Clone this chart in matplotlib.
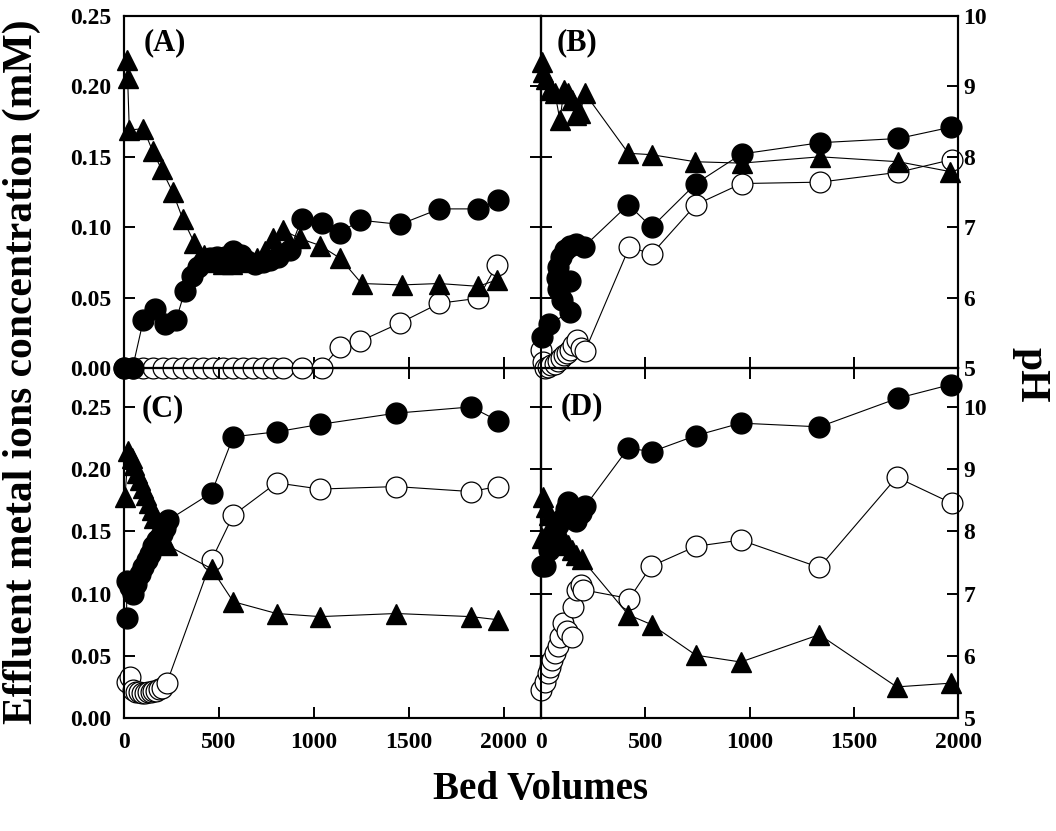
import matplotlib
matplotlib.use('Agg')
import matplotlib.pyplot as plt

plt.rcParams['font.family'] = ['Liberation Serif', 'DejaVu Serif']
plt.rcParams['font.weight'] = 'bold'

# ---- data (x = bed volumes, conc in mM, pH) ----
# (A)
a_fill_x = [0, 45, 102, 163, 216, 274, 321, 356, 391, 420, 455, 490, 530, 575, 615,
            650, 690, 730, 770, 810, 874, 935, 1040, 1137, 1242, 1453, 1660, 1865, 1970]
a_fill_y = [0.0, 0.0, 0.034, 0.042, 0.031, 0.034, 0.055, 0.065, 0.072, 0.076, 0.078, 0.079, 0.079, 0.083, 0.080,
            0.076, 0.074, 0.075, 0.077, 0.079, 0.084, 0.106, 0.103, 0.096, 0.105, 0.102, 0.113, 0.113, 0.119]
a_open_x = [0, 50, 102, 154, 207, 259, 312, 365, 417, 470, 522, 575, 628, 680, 733, 786, 838,
            935, 1040, 1137, 1242, 1453, 1660, 1865, 1961]
a_open_y = [0, 0, 0, 0, 0, 0, 0, 0, 0, 0, 0, 0, 0, 0, 0, 0, 0,
            0, 0, 0.015, 0.019, 0.032, 0.046, 0.0495, 0.073]
a_ph_x = [14, 19, 28, 102, 151, 198, 256, 309, 370, 420, 470, 520, 570, 620, 660, 700, 740,
          786, 835, 926, 1032, 1137, 1251, 1461, 1659, 1865, 1961]
a_ph_y = [9.38, 9.12, 8.38, 8.40, 8.08, 7.82, 7.50, 7.12, 6.78, 6.60, 6.50, 6.48, 6.48, 6.50, 6.52, 6.56, 6.66,
          6.84, 6.96, 6.84, 6.74, 6.56, 6.20, 6.18, 6.20, 6.16, 6.25]

# (B)
b_fill_x = [3, 40, 139, 139, 100, 80, 75, 80, 95, 115, 140, 170, 205, 419, 531, 743, 962, 1338, 1714, 1965]
b_fill_y = [0.022, 0.031, 0.040, 0.062, 0.048, 0.056, 0.064, 0.072, 0.079, 0.084, 0.087, 0.088, 0.086,
            0.116, 0.100, 0.131, 0.152, 0.160, 0.163, 0.171]
b_open_x = [0, 10, 20, 35, 50, 65, 80, 95, 110, 125, 140, 155, 171, 190, 211, 424, 531, 743, 962, 1338, 1714, 1970]
b_open_y = [0.013, 0.004, 0.0, 0.001, 0.002, 0.003, 0.005, 0.007, 0.009, 0.011, 0.013, 0.016, 0.020, 0.014, 0.012,
            0.086, 0.081, 0.116, 0.131, 0.132, 0.139, 0.148]
b_ph_x = [3, 10, 25, 45, 67, 91, 110, 130, 150, 170, 187, 211, 419, 531, 739, 962, 1338, 1714, 1962]
b_ph_y = [9.35, 9.2, 9.1, 8.95, 8.9, 8.52, 8.95, 8.9, 8.8, 8.6, 8.62, 8.9, 8.05, 8.03, 7.93, 7.91, 8.0, 7.93, 7.79]

# (C)
c_fill_x = [14, 14, 30, 49, 65, 84, 100, 119, 135, 154, 175, 198, 215, 233, 461, 575, 803, 1032, 1432, 1826, 1967]
c_fill_y = [0.080, 0.110, 0.105, 0.100, 0.108, 0.116, 0.121, 0.127, 0.132, 0.138, 0.143, 0.148, 0.153, 0.159,
            0.181, 0.226, 0.230, 0.236, 0.245, 0.250, 0.239]
c_open_x = [14, 30, 49, 65, 80, 95, 110, 125, 140, 155, 170, 185, 200, 225, 461, 575, 803, 1032, 1432, 1826, 1967]
c_open_y = [0.029, 0.033, 0.0225, 0.021, 0.021, 0.020, 0.020, 0.021, 0.021, 0.022, 0.022, 0.023, 0.024, 0.028,
            0.127, 0.163, 0.189, 0.184, 0.186, 0.182, 0.186]
c_ph_x = [5, 23, 40, 55, 70, 85, 100, 115, 130, 145, 160, 180, 200, 225, 461, 575, 803, 1032, 1432, 1826, 1967]
c_ph_y = [8.56, 9.30, 9.18, 9.06, 8.94, 8.82, 8.70, 8.58, 8.46, 8.34, 8.22, 8.06, 7.92, 7.78,
          7.40, 6.87, 6.68, 6.63, 6.68, 6.63, 6.58]

# (D)
d_fill_x = [3, 19, 40, 60, 80, 100, 120, 131, 150, 170, 190, 211, 419, 531, 743, 958, 1335, 1711, 1966]
d_fill_y = [0.122, 0.122, 0.135, 0.145, 0.155, 0.160, 0.168, 0.174, 0.165, 0.158, 0.165, 0.170,
            0.217, 0.214, 0.227, 0.237, 0.234, 0.257, 0.268]
d_open_x = [0, 19, 35, 43, 55, 67, 80, 91, 107, 125, 147, 155, 171, 190, 203, 424, 528, 743, 958, 1335, 1706, 1970]
d_open_y = [0.0225, 0.029, 0.036, 0.041, 0.047, 0.052, 0.058, 0.065, 0.076, 0.070, 0.065, 0.089, 0.103, 0.107, 0.103,
            0.096, 0.122, 0.138, 0.143, 0.121, 0.1935, 0.1726]
d_ph_x = [3, 11, 25, 40, 55, 70, 90, 110, 130, 150, 170, 195, 419, 531, 743, 958, 1335, 1706, 1965]
d_ph_y = [7.9, 8.56, 8.4, 8.26, 8.14, 8.04, 7.94, 7.86, 7.78, 7.7, 7.62, 7.56, 6.66, 6.5, 6.01, 5.9, 6.34, 5.5, 5.56]

conc_ticks = [0.0, 0.05, 0.10, 0.15, 0.20, 0.25]
ph_ticks = [5, 6, 7, 8, 9, 10]
bv_ticks = [0, 500, 1000, 1500, 2000]

W, H = 1056, 831


def box(l, t, r, b):
    return [l / W, 1 - b / H, (r - l) / W, (b - t) / H]


fig = plt.figure(figsize=(10.56, 8.31), dpi=100)

panels = [
    ('(A)', box(124, 16, 541, 368), 2195, 0.25, 10.0, True, False,
     a_fill_x, a_fill_y, a_open_x, a_open_y, a_ph_x, a_ph_y, (0.046, 0.965)),
    ('(B)', box(541, 16, 958, 368), 2000, 0.25, 10.0, False, False,
     b_fill_x, b_fill_y, b_open_x, b_open_y, b_ph_x, b_ph_y, (0.038, 0.965)),
    ('(C)', box(124, 368, 541, 718), 2195, 0.2813, 10.627, True, True,
     c_fill_x, c_fill_y, c_open_x, c_open_y, c_ph_x, c_ph_y, (0.042, 0.925)),
    ('(D)', box(541, 368, 958, 718), 2000, 0.2813, 10.627, False, True,
     d_fill_x, d_fill_y, d_open_x, d_open_y, d_ph_x, d_ph_y, (0.046, 0.93)),
]

for (letter, rect, xmax, cmax, phmax, is_left, is_bottom,
     fx, fy, ox, oy, tx, ty, lpos) in panels:
    ax = fig.add_axes(rect)
    ax.set_facecolor('none')
    ax2 = ax.twinx()

    ax.plot(ox, oy, '-o', color='black', lw=0.8, ms=15, mfc='white', mec='black',
            mew=0.9, clip_on=False, zorder=3)
    ax.plot(fx, fy, '-o', color='black', lw=0.8, ms=15, mfc='black', mec='black',
            clip_on=False, zorder=4)
    ax2.plot(tx, ty, '-^', color='black', lw=0.8, ms=15, mfc='black', mec='black',
             clip_on=False, zorder=5)

    ax.set_xlim(0, xmax)
    ax.set_ylim(0, cmax)
    ax2.set_ylim(5, phmax)
    ax.set_xticks(bv_ticks)
    ax.set_yticks(conc_ticks)
    ax2.set_yticks(ph_ticks)

    for a in (ax, ax2):
        for s in a.spines.values():
            s.set_linewidth(1.5)

    ax.tick_params(axis='both', direction='in', length=8, width=1.4, labelsize=17)
    ax2.tick_params(axis='y', direction='in', length=8, width=1.4, labelsize=17, pad=4)
    ax.tick_params(axis='x', top=is_bottom, bottom=True, labelbottom=is_bottom, pad=10)
    ax.tick_params(axis='y', left=True, labelleft=is_left, pad=9)
    ax2.tick_params(axis='y', right=True, labelright=not is_left)
    if is_left:
        ax.yaxis.set_major_formatter(plt.FormatStrFormatter('%.2f'))
    ax.text(lpos[0], lpos[1], letter, transform=ax.transAxes, fontsize=22,
            fontweight='bold', ha='left', va='top')

fig.text(22 / W, 1 - 372 / H, 'Effluent metal ions concentration (mM)', rotation=90,
         fontsize=30, fontweight='bold', ha='center', va='center')
fig.text(541 / W, 1 - 790 / H, 'Bed Volumes', fontsize=28, fontweight='bold',
         ha='center', va='center')
fig.text(1031 / W, 1 - 375 / H, 'pH', rotation=270, fontsize=30, fontweight='bold',
         ha='center', va='center')

fig.savefig('out.png', dpi=100)
